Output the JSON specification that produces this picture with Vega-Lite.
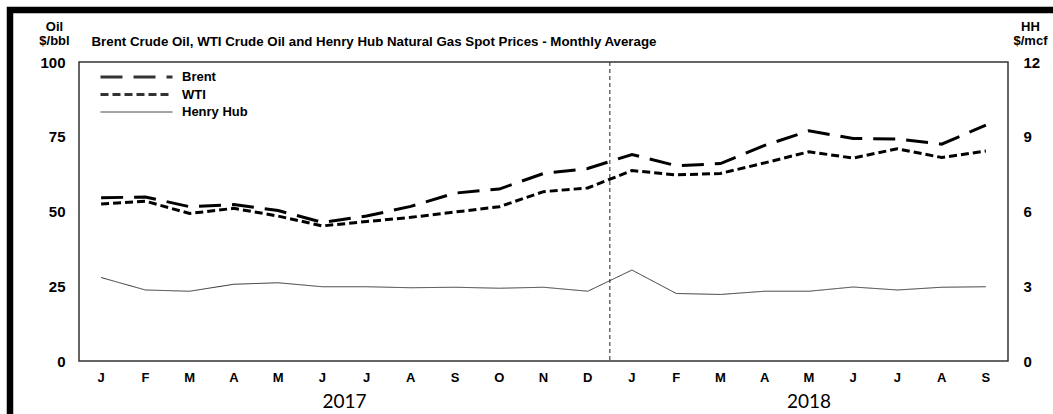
{
  "$schema": "https://vega.github.io/schema/vega-lite/v6.json",
  "width": 929,
  "height": 299,
  "autosize": {"type": "none"},
  "padding": {"left": 79, "top": 62, "right": 45, "bottom": 53},
  "background": "white",
  "config": {
    "font": "Liberation Sans",
    "view": {"stroke": "#333", "strokeWidth": 1.5},
    "line": {"color": "black"},
    "axis": {"grid": false, "ticks": false, "tickSize": 0, "domain": false, "labelColor": "#000", "titleColor": "#000", "labelFontWeight": "bold", "titleFontWeight": "bold"},
    "legend": {"strokeWidth": 6.5}
  },
  "datasets": {
    "prices": [
      {"m": "2017-01", "series": "Brent", "v": 54.58}, {"m": "2017-02", "series": "Brent", "v": 54.87}, {"m": "2017-03", "series": "Brent", "v": 51.59},
      {"m": "2017-04", "series": "Brent", "v": 52.31}, {"m": "2017-05", "series": "Brent", "v": 50.33}, {"m": "2017-06", "series": "Brent", "v": 46.37},
      {"m": "2017-07", "series": "Brent", "v": 48.48}, {"m": "2017-08", "series": "Brent", "v": 51.70}, {"m": "2017-09", "series": "Brent", "v": 56.15},
      {"m": "2017-10", "series": "Brent", "v": 57.51}, {"m": "2017-11", "series": "Brent", "v": 62.71}, {"m": "2017-12", "series": "Brent", "v": 64.37},
      {"m": "2018-01", "series": "Brent", "v": 69.08}, {"m": "2018-02", "series": "Brent", "v": 65.32}, {"m": "2018-03", "series": "Brent", "v": 66.02},
      {"m": "2018-04", "series": "Brent", "v": 72.11}, {"m": "2018-05", "series": "Brent", "v": 76.98}, {"m": "2018-06", "series": "Brent", "v": 74.41},
      {"m": "2018-07", "series": "Brent", "v": 74.25}, {"m": "2018-08", "series": "Brent", "v": 72.53}, {"m": "2018-09", "series": "Brent", "v": 78.89},
      {"m": "2017-01", "series": "WTI", "v": 52.50}, {"m": "2017-02", "series": "WTI", "v": 53.47}, {"m": "2017-03", "series": "WTI", "v": 49.33},
      {"m": "2017-04", "series": "WTI", "v": 51.06}, {"m": "2017-05", "series": "WTI", "v": 48.48}, {"m": "2017-06", "series": "WTI", "v": 45.18},
      {"m": "2017-07", "series": "WTI", "v": 46.63}, {"m": "2017-08", "series": "WTI", "v": 48.04}, {"m": "2017-09", "series": "WTI", "v": 49.82},
      {"m": "2017-10", "series": "WTI", "v": 51.58}, {"m": "2017-11", "series": "WTI", "v": 56.64}, {"m": "2017-12", "series": "WTI", "v": 57.88},
      {"m": "2018-01", "series": "WTI", "v": 63.70}, {"m": "2018-02", "series": "WTI", "v": 62.23}, {"m": "2018-03", "series": "WTI", "v": 62.73},
      {"m": "2018-04", "series": "WTI", "v": 66.25}, {"m": "2018-05", "series": "WTI", "v": 69.98}, {"m": "2018-06", "series": "WTI", "v": 67.87},
      {"m": "2018-07", "series": "WTI", "v": 70.98}, {"m": "2018-08", "series": "WTI", "v": 68.06}, {"m": "2018-09", "series": "WTI", "v": 70.23},
      {"m": "2017-01", "series": "Henry Hub", "v": 3.35}, {"m": "2017-02", "series": "Henry Hub", "v": 2.85}, {"m": "2017-03", "series": "Henry Hub", "v": 2.80},
      {"m": "2017-04", "series": "Henry Hub", "v": 3.08}, {"m": "2017-05", "series": "Henry Hub", "v": 3.14}, {"m": "2017-06", "series": "Henry Hub", "v": 2.98},
      {"m": "2017-07", "series": "Henry Hub", "v": 2.98}, {"m": "2017-08", "series": "Henry Hub", "v": 2.94}, {"m": "2017-09", "series": "Henry Hub", "v": 2.96},
      {"m": "2017-10", "series": "Henry Hub", "v": 2.92}, {"m": "2017-11", "series": "Henry Hub", "v": 2.96}, {"m": "2017-12", "series": "Henry Hub", "v": 2.80},
      {"m": "2018-01", "series": "Henry Hub", "v": 3.65}, {"m": "2018-02", "series": "Henry Hub", "v": 2.71}, {"m": "2018-03", "series": "Henry Hub", "v": 2.67},
      {"m": "2018-04", "series": "Henry Hub", "v": 2.80}, {"m": "2018-05", "series": "Henry Hub", "v": 2.80}, {"m": "2018-06", "series": "Henry Hub", "v": 2.97},
      {"m": "2018-07", "series": "Henry Hub", "v": 2.85}, {"m": "2018-08", "series": "Henry Hub", "v": 2.96}, {"m": "2018-09", "series": "Henry Hub", "v": 2.98}
    ],
    "marker": [{"m": "2018-01", "v": 1}]
  },
  "layer": [
    {
      "data": {"name": "prices"},
      "transform": [{"filter": "datum.series != 'Henry Hub'"}],
      "mark": {"type": "line", "strokeCap": "butt", "strokeWidth": 3},
      "encoding": {
        "x": {
          "field": "m", "type": "ordinal", "bandPosition": 0.5,
          "scale": {"type": "band", "paddingInner": 0, "paddingOuter": 0},
          "axis": {"orient": "bottom", "title": null, "labelAngle": 0, "labelExpr": "['J','F','M','A','M','J','J','A','S','O','N','D'][toNumber(slice(datum.value,5,7))-1]", "labelFontSize": 13, "labelBaseline": "middle", "labelPadding": 16}
        },
        "y": {
          "field": "v", "type": "quantitative",
          "scale": {"domain": [0, 100]},
          "axis": {"orient": "left", "values": [0, 25, 50, 75, 100], "labelFontSize": 15, "labelPadding": 14, "title": ["Oil", "$/bbl"], "titleAngle": 0, "titleX": -25, "titleY": -32, "titleAlign": "center", "titleBaseline": "alphabetic", "titleFontSize": 13, "titleLineHeight": 14}
        },
        "strokeDash": {
          "field": "series", "type": "nominal",
          "scale": {"domain": ["Brent", "WTI", "Henry Hub"], "range": [[22, 11], [8, 4], [1, 0]]},
          "legend": {"title": null, "orient": "none", "legendX": 15, "legendY": 8.5, "symbolType": "M0,0H72", "symbolSize": 4, "symbolStrokeColor": "black", "symbolStrokeWidth": {"expr": "datum.value == 'Henry Hub' ? 1 : 3"}, "labelFontSize": 13, "labelFontWeight": "bold", "labelColor": "black", "labelOffset": 75, "rowPadding": 3.5, "padding": 0}
        }
      }
    },
    {
      "data": {"name": "prices"},
      "transform": [{"filter": "datum.series == 'Henry Hub'"}],
      "mark": {"type": "line", "strokeCap": "butt", "color": "#333", "strokeWidth": 1},
      "encoding": {
        "x": {
          "field": "m", "type": "ordinal", "bandPosition": 0.5,
          "axis": {"orient": "top", "labels": false, "title": "Brent Crude Oil, WTI Crude Oil and Henry Hub Natural Gas Spot Prices - Monthly Average", "titleX": 12, "titleY": -17, "titleAlign": "left", "titleAnchor": "start", "titleBaseline": "alphabetic", "titleFontSize": 13.3, "titleAngle": 0}
        },
        "y": {
          "field": "v", "type": "quantitative",
          "scale": {"domain": [0, 12]},
          "axis": {"orient": "right", "values": [0, 3, 6, 9, 12], "labelFontSize": 15, "labelPadding": 15, "title": ["HH", "$/mcf"], "titleAngle": 0, "titleX": 22, "titleY": -32, "titleAlign": "center", "titleBaseline": "alphabetic", "titleFontSize": 13, "titleLineHeight": 14}
        },
        "strokeDash": {"field": "series", "type": "nominal"}
      }
    },
    {
      "data": {"name": "marker"},
      "mark": {"type": "rule", "strokeDash": [4, 3], "strokeWidth": 1},
      "encoding": {
        "x": {
          "field": "m", "type": "ordinal", "bandPosition": 0,
          "axis": {"orient": "bottom", "title": null, "values": ["2017-07", "2018-05"], "labelExpr": "slice(datum.value,0,4)", "labelAngle": 0, "labelFont": "Lato", "labelFontSize": 19, "labelFontWeight": "normal", "labelPadding": 40, "labelBaseline": "middle", "labelOffset": {"condition": {"test": "datum.value == '2017-07'", "value": -22}, "value": 0}}
        },
        "color": {
          "field": "v", "type": "quantitative",
          "scale": {"domain": [0, 1], "range": ["#222", "#222"]},
          "legend": {"type": "gradient", "title": null, "orient": "none", "legendX": -69, "legendY": -52, "padding": 1500, "strokeColor": "black", "gradientOpacity": 0, "gradientStrokeWidth": 0, "labelExpr": "''", "labelOpacity": 0, "gradientLength": 10, "gradientThickness": 5, "direction": "vertical", "cornerRadius": 0}
        }
      }
    }
  ],
  "resolve": {"scale": {"y": "independent"}, "axis": {"x": "independent", "y": "independent"}}
}
